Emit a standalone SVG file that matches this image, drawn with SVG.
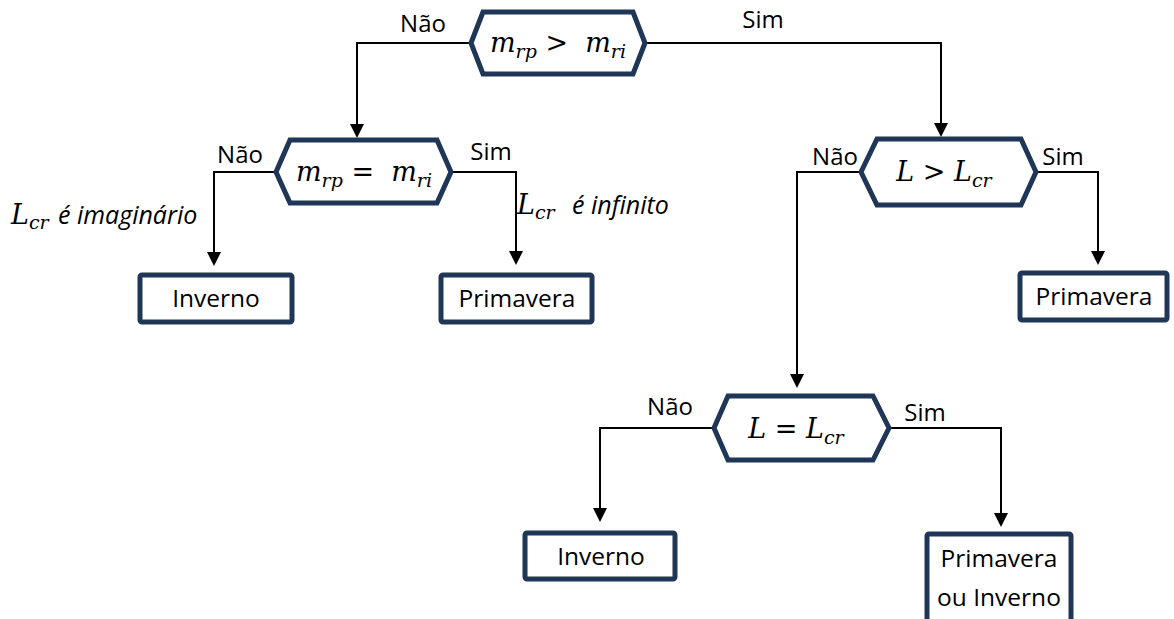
<svg xmlns="http://www.w3.org/2000/svg" width="1174" height="619" viewBox="0 0 1174 619">
<style>
.hex{fill:#fff;stroke:#1f3656;stroke-width:5;stroke-linejoin:miter}
.box{fill:#fff;stroke:#1f3656;stroke-width:5}
.con{fill:none;stroke:#000;stroke-width:2}
.lbl{font-family:"Open Sans","Noto Sans","Liberation Sans",sans-serif;font-size:24px;fill:#000}
.bt{font-family:"Open Sans","Noto Sans","Liberation Sans",sans-serif;font-size:24.5px;fill:#000;text-anchor:middle}
.math{font-family:"DejaVu Serif","Liberation Serif",serif;font-style:italic;font-size:27px;fill:#000}
.sub{font-size:19px}
.it{font-family:"Open Sans","Noto Sans","Liberation Sans",sans-serif;font-style:italic;font-size:25px}
</style>
<rect width="1174" height="619" fill="#fff"/>
<g id="connectors">
<path class="con" d="M471,43 H357 V130"/>
<path class="con" d="M645,43 H941 V130"/>
<path class="con" d="M276,172 H214 V258"/>
<path class="con" d="M451,172 H516 V258"/>
<path class="con" d="M861,172 H797 V380"/>
<path class="con" d="M1036,172 H1098 V258"/>
<path class="con" d="M714,428 H600 V514"/>
<path class="con" d="M889,428 H1001 V519"/>
<g fill="#000">
<path d="M350,124 L364,124 L357,138 Z"/>
<path d="M934,123 L948,123 L941,137 Z"/>
<path d="M207,252 L221,252 L214,266 Z"/>
<path d="M509,251 L523,251 L516,265 Z"/>
<path d="M790,374 L804,374 L797,388 Z"/>
<path d="M1091,251 L1105,251 L1098,265 Z"/>
<path d="M593,508 L607,508 L600,522 Z"/>
<path d="M994,513 L1008,513 L1001,527 Z"/>
</g>
<text class="lbl" x="423" y="32" text-anchor="middle">Não</text>
<text class="lbl" x="763" y="28" text-anchor="middle">Sim</text>
<text class="lbl" x="240" y="163" text-anchor="middle">Não</text>
<text class="lbl" x="491" y="160" text-anchor="middle">Sim</text>
<text class="lbl" x="835" y="165" text-anchor="middle">Não</text>
<text class="lbl" x="1063" y="165" text-anchor="middle">Sim</text>
<text class="lbl" x="670" y="415" text-anchor="middle">Não</text>
<text class="lbl" x="925" y="421" text-anchor="middle">Sim</text>
<text x="11" y="224"><tspan class="math">L</tspan><tspan class="math sub" dy="5">cr</tspan><tspan class="it" dy="-5" x="58">é imaginário</tspan></text>
<text x="517" y="214"><tspan class="math">L</tspan><tspan class="math sub" dy="5">cr</tspan><tspan class="it" dy="-5" x="572">é infinito</tspan></text>
</g>
<g id="dec1">
<polygon class="hex" points="471,43 483,12 633,12 645,43 633,74 483,74"/>
<text class="math" x="558" y="52" text-anchor="middle">m<tspan class="sub" dy="6">rp</tspan><tspan dy="-6">&#160;&gt;&#160;&#160;m</tspan><tspan class="sub" dy="6">ri</tspan></text>
</g>
<g id="dec2">
<polygon class="hex" points="276,172 290,140 437,140 451,172 437,203 290,203"/>
<text class="math" x="364" y="181" text-anchor="middle">m<tspan class="sub" dy="6">rp</tspan><tspan dy="-6">&#160;=&#160;&#160;m</tspan><tspan class="sub" dy="6">ri</tspan></text>
</g>
<g id="dec3">
<polygon class="hex" points="861,172 877,139 1021,139 1036,172 1021,205 877,205"/>
<text class="math" x="944" y="181" text-anchor="middle">L &gt; L<tspan class="sub" dy="6">cr</tspan></text>
</g>
<g id="dec4">
<polygon class="hex" points="714,428 728,396 873,396 889,428 873,460 728,460"/>
<text class="math" x="796" y="438" text-anchor="middle">L = L<tspan class="sub" dy="6">cr</tspan></text>
</g>
<g id="inverno1">
<rect class="box" x="140" y="275" width="152" height="47" rx="2"/>
<text class="bt" x="216" y="307">Inverno</text>
</g>
<g id="primavera1">
<rect class="box" x="441" y="275" width="151" height="47" rx="2"/>
<text class="bt" x="517" y="307">Primavera</text>
</g>
<g id="primavera2">
<rect class="box" x="1020" y="273" width="147" height="47" rx="2"/>
<text class="bt" x="1094" y="305">Primavera</text>
</g>
<g id="inverno2">
<rect class="box" x="525" y="533" width="150" height="46" rx="2"/>
<text class="bt" x="601" y="565">Inverno</text>
</g>
<g id="primaveraouinverno">
<rect class="box" x="927" y="534" width="144" height="100" rx="2"/>
<text class="bt" x="999" y="567">Primavera</text>
<text class="bt" x="999" y="606">ou Inverno</text>
</g>
</svg>
